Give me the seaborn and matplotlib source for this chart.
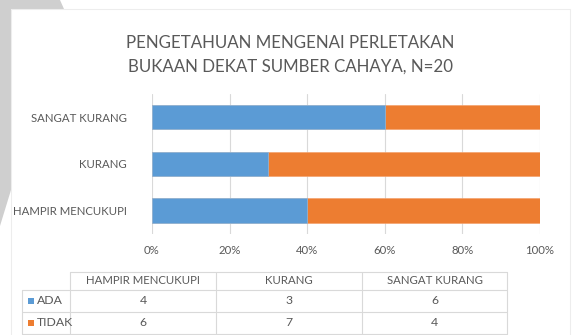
import matplotlib
matplotlib.use("Agg")
import matplotlib.pyplot as plt
from matplotlib.patches import Polygon, Rectangle
from matplotlib.lines import Line2D
import pandas as pd
import seaborn as sns

# Survey responses (N=20)
categories = ["SANGAT KURANG", "KURANG", "HAMPIR MENCUKUPI"]
ada = [6, 3, 4]
tidak = [4, 7, 6]
table_columns = ["HAMPIR MENCUKUPI", "KURANG", "SANGAT KURANG"]
table_ada = [4, 3, 6]
table_tidak = [6, 7, 4]
series_names = ["ADA", "TIDAK"]
xticks = [0, 20, 40, 60, 80, 100]
title = "PENGETAHUAN MENGENAI PERLETAKAN\nBUKAAN DEKAT SUMBER CAHAYA, N=20"

BLUE = "#5B9BD5"
ORANGE = "#ED7D31"
TEXT = "#595959"
GRID = "#D9D9D9"
FS = 8.2

sns.set_style("white")
plt.rcParams["font.family"] = ["Lato", "DejaVu Sans"]

W, H = 574, 335
fig = plt.figure(figsize=(W / 100, H / 100), dpi=100)
fig.patch.set_facecolor("white")


def fx(x):
    return x / W


def fy(y):
    return 1 - y / H


# page decoration behind the chart card
deco = Polygon([(fx(0), fy(0)), (fx(60), fy(0)), (fx(64), fy(9)), (fx(11), fy(9)),
                (fx(11), fy(190)), (fx(0), fy(226))],
               closed=True, transform=fig.transFigure, facecolor="#CFCFCF",
               edgecolor="none", zorder=-3)
fig.patches.append(deco)
card = Rectangle((fx(11), fy(336)), fx(559), fy(9) - fy(336),
                 transform=fig.transFigure, facecolor="white", edgecolor="#EDEDED",
                 linewidth=0.8, zorder=-2)
fig.patches.append(card)

# stacked 100% bars
df = pd.DataFrame({"cat": categories, "ada": ada, "tidak": tidak})
df["total"] = df["ada"] + df["tidak"]
df["ada_pct"] = df["ada"] / df["total"] * 100
df["all_pct"] = 100.0

ax = fig.add_axes([fx(152), fy(233.75), fx(540) - fx(152), fy(93.75) - fy(233.75)])
ax.set_facecolor("none")
sns.barplot(data=df, x="all_pct", y="cat", orient="h", color=ORANGE, width=0.52,
            saturation=1, ax=ax, edgecolor="#F4A36E", linewidth=0.5, zorder=2)
sns.barplot(data=df, x="ada_pct", y="cat", orient="h", color=BLUE, width=0.52,
            saturation=1, ax=ax, edgecolor="#8DBBE4", linewidth=0.5, zorder=3)

ax.set_xlim(0, 100)
ax.set_ylim(2.5, -0.5)
ax.set_xticks(xticks)
ax.set_xticklabels([f"{t}%" for t in xticks])
ax.set_xlabel("")
ax.set_ylabel("")
for s in ax.spines.values():
    s.set_visible(False)
ax.grid(axis="x", color=GRID, linewidth=0.8, zorder=0)
ax.set_axisbelow(True)
ax.tick_params(axis="both", length=0, labelcolor=TEXT, labelsize=FS)
ax.tick_params(axis="y", pad=18)
ax.tick_params(axis="x", pad=8)

fig.text(fx(290), fy(55), title, ha="center", va="center", fontsize=12.2,
         color=TEXT, linespacing=1.55)

# data table below the plot
lc = "#D9D9D9"
col_edges = [70, 216, 362, 507]
row_edges = [272, 289.5, 311.5, 334]


def hline(y, x0, x1):
    fig.lines.append(Line2D([fx(x0), fx(x1)], [fy(y), fy(y)], transform=fig.transFigure,
                            color=lc, linewidth=0.8))


def vline(x, y0, y1):
    fig.lines.append(Line2D([fx(x), fx(x)], [fy(y0), fy(y1)], transform=fig.transFigure,
                            color=lc, linewidth=0.8))


hline(row_edges[0], col_edges[0], col_edges[-1])
for y in row_edges[1:]:
    hline(y, 22, col_edges[-1])
vline(22, row_edges[1], row_edges[-1])
for x in col_edges:
    vline(x, row_edges[0], row_edges[-1])

for i, name in enumerate(table_columns):
    cx = (col_edges[i] + col_edges[i + 1]) / 2
    fig.text(fx(cx), fy(281), name, ha="center", va="center", fontsize=FS, color=TEXT)

rows = [table_ada, table_tidak]
colors = [BLUE, ORANGE]
row_cy = [301, 323]
for vals, name, c, cy in zip(rows, series_names, colors, row_cy):
    fig.patches.append(Rectangle((fx(28), fy(cy + 3)), fx(6), fy(cy - 3) - fy(cy + 3),
                                 transform=fig.transFigure, facecolor=c, edgecolor="none"))
    fig.text(fx(37), fy(cy), name, ha="left", va="center", fontsize=FS + 0.6, color=TEXT)
    for i, v in enumerate(vals):
        cx = (col_edges[i] + col_edges[i + 1]) / 2
        fig.text(fx(cx), fy(cy), str(v), ha="center", va="center", fontsize=FS + 0.6,
                 color=TEXT)

fig.savefig("out.png", dpi=100, facecolor="white")
